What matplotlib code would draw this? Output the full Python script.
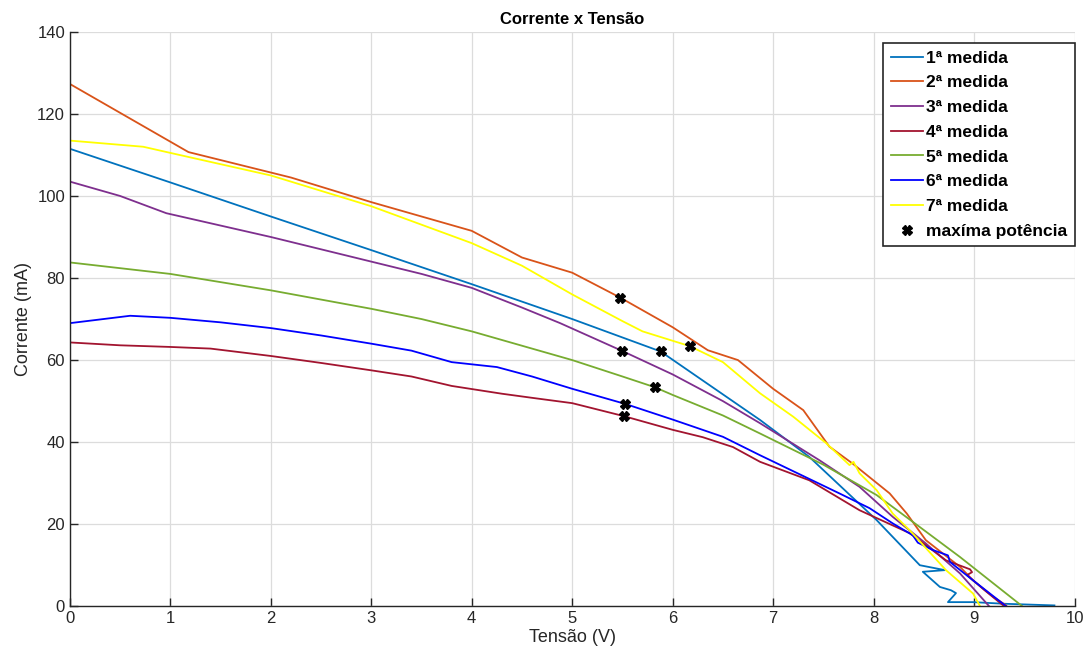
import numpy as np
import matplotlib.pyplot as plt

# I-V curves (V, mA)
v1 = [0, 1, 2, 3, 4, 5, 5.88, 6.87, 7.36, 8.03, 8.46, 8.71, 8.49, 8.66, 8.77, 8.82, 8.74, 8.99, 9.3, 9.8]
i1 = [111.5, 103.3, 95, 86.8, 78.5, 70, 62.1, 45.4, 36.4, 21, 10, 8.8, 8.4, 4.7, 3.9, 3.2, 1.0, 1.0, 0.6, 0.2]

v2 = [0, 1.18, 2.2, 3, 4, 4.5, 5, 5.48, 6, 6.35, 6.65, 7, 7.3, 7.56, 7.79, 8.16, 8.33, 8.52, 8.86, 8.99, 9.19, 9.32]
i2 = [127.3, 110.7, 104.5, 98.5, 91.5, 85, 81.3, 75.2, 68, 62.4, 60, 53, 47.8, 38.9, 34.8, 27.5, 22.6, 16.1, 9.6, 6.3, 2.3, 0.2]

v3 = [0, 0.5, 0.96, 2, 3, 3.5, 4, 4.5, 4.88, 5.5, 6, 6.5, 6.87, 7.46, 7.86, 8.19, 8.52, 8.86, 9.15]
i3 = [103.5, 100, 95.8, 90, 84, 81, 77.6, 72.8, 69, 62.2, 56.5, 50, 44.6, 35.6, 29.1, 21.8, 15.3, 8, 0]

v4 = [0, 0.5, 1, 1.4, 2, 2.5, 3, 3.4, 3.8, 4.3, 4.6, 5, 5.52, 6, 6.3, 6.6, 6.87, 7.36, 7.86, 8.36, 8.72, 8.96, 8.98, 8.93, 9.1, 9.3]
i4 = [64.3, 63.6, 63.2, 62.8, 61, 59.3, 57.5, 56, 53.7, 51.8, 50.8, 49.5, 46.3, 43, 41.2, 38.8, 35.2, 30.7, 23.4, 17.8, 11.2, 9.0, 8.3, 7.6, 4.0, 0]

v5 = [0, 1, 2, 3, 3.5, 4, 4.5, 5, 5.5, 5.82, 6, 6.5, 6.87, 7.5, 8.03, 8.46, 8.86, 9.48]
i5 = [83.8, 81, 77, 72.5, 70, 67, 63.5, 60, 56, 53.4, 51.5, 46.5, 42.1, 34.5, 27.1, 19.3, 12, 0]

v6 = [0, 0.6, 1, 1.5, 2, 2.5, 3, 3.4, 3.8, 4.25, 4.6, 5, 5.53, 6, 6.5, 6.87, 7.66, 7.96, 8.19, 8.39, 8.44, 8.59, 8.74, 8.76, 8.99, 9.32]
i6 = [69, 70.8, 70.3, 69.2, 67.8, 66, 64, 62.3, 59.5, 58.3, 56, 53, 49.3, 45.5, 41.3, 36.8, 27.5, 23.9, 20.2, 17.3, 15.5, 13.7, 12.4, 10.8, 6.3, 0]

v7 = [0, 0.73, 1, 2, 3, 4, 4.5, 5, 5.5, 5.7, 6.17, 6.5, 6.87, 7.2, 7.53, 7.76, 7.8, 7.86, 8.03, 8.19, 8.36, 8.72, 8.99, 9.06]
i7 = [113.5, 112, 110.5, 105, 97.5, 88.5, 83, 76, 69.5, 67, 63.4, 59.5, 51.9, 46.2, 39.7, 34.4, 35.2, 32.4, 28.3, 22.6, 18.5, 8.8, 3.1, 0]

# maximum power points
vmp = [5.88, 5.48, 5.5, 5.52, 5.82, 5.53, 6.17]
imp = [62.1, 75.2, 62.2, 46.3, 53.4, 49.3, 63.4]

labels = ['1ª medida', '2ª medida', '3ª medida', '4ª medida', '5ª medida', '6ª medida', '7ª medida']
colors = ['#0072BD', '#D95319', '#7E2F8E', '#A2142F', '#77AC30', '#0000FF', '#FFFF00']

plt.rcParams['font.family'] = ['Liberation Sans', 'DejaVu Sans']

fig = plt.figure(figsize=(10.92, 6.64), dpi=100)
ax = fig.add_axes([0.064, 0.087, 0.92, 0.865])

curves = [(v1, i1), (v2, i2), (v3, i3), (v4, i4), (v5, i5), (v6, i6), (v7, i7)]
for (v, i), lab, c in zip(curves, labels, colors):
    ax.plot(v, i, color=c, lw=1.3, label=lab)
ax.plot(vmp, imp, 'X', color='black', ms=6.5, ls='none', label='maxíma potência')

ax.set_xlim(0, 10)
ax.set_ylim(0, 140)
ax.set_xticks(np.arange(0, 11, 1))
ax.set_yticks(np.arange(0, 141, 20))
ax.grid(True, color='#dcdcdc', lw=0.9)
ax.set_axisbelow(True)
for s in ['top', 'right']:
    ax.spines[s].set_visible(False)
for s in ['left', 'bottom']:
    ax.spines[s].set_color('#262626')
    ax.spines[s].set_linewidth(1.0)
ax.tick_params(direction='in', length=6, labelsize=12, colors='#262626', width=1.0)

ax.set_title('Corrente x Tensão', fontsize=12, fontweight='bold', pad=6)
ax.set_xlabel('Tensão (V)', fontsize=13, color='#262626', labelpad=2)
ax.set_ylabel('Corrente (mA)', fontsize=13, color='#262626', labelpad=4)

leg = ax.legend(loc='upper right', bbox_to_anchor=(1.0, 0.981), borderaxespad=0,
                prop={'weight': 'bold', 'size': 12.5},
                frameon=True, fancybox=False, handlelength=1.85, handletextpad=0.15,
                labelspacing=0.55, borderpad=0.45, edgecolor='#262626', framealpha=1)
leg.get_frame().set_linewidth(1.2)

fig.savefig('out.png', dpi=100)
